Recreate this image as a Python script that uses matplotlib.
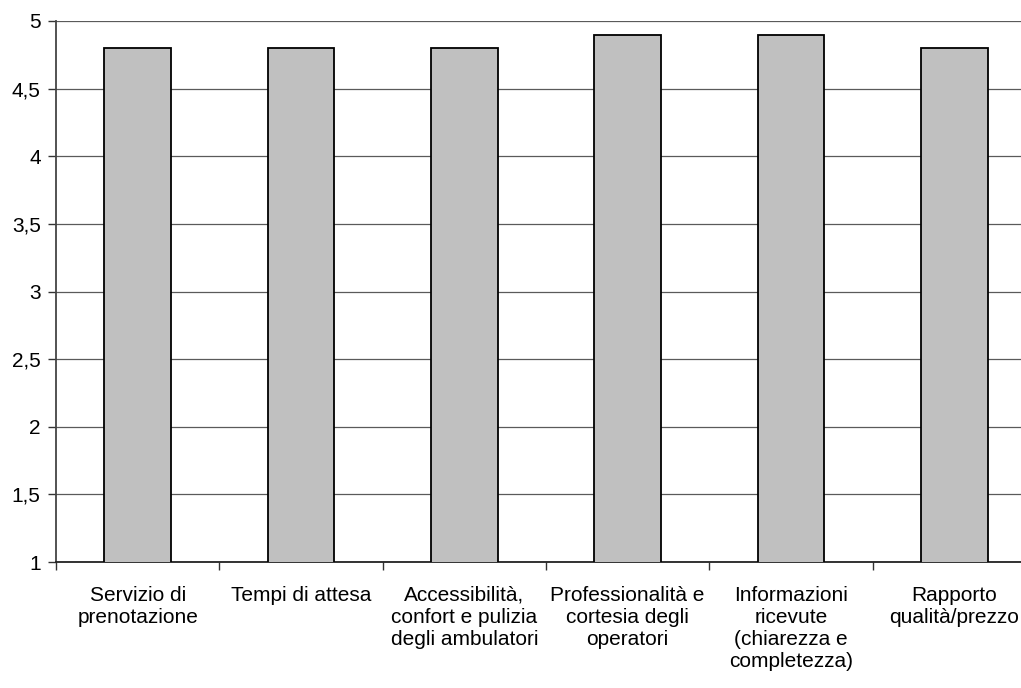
import matplotlib.pyplot as plt
from matplotlib.ticker import FixedLocator, FuncFormatter

plt.rcParams['font.family'] = ['Liberation Sans', 'DejaVu Sans']

# Punteggi medi per voce del questionario
categorie = [
    "Servizio di\nprenotazione",
    "Tempi di attesa",
    "Accessibilità,\nconfort e pulizia\ndegli ambulatori",
    "Professionalità e\ncortesia degli\noperatori",
    "Informazioni\nricevute\n(chiarezza e\ncompletezza)",
    "Rapporto\nqualità/prezzo",
]
punteggi = [4.8, 4.8, 4.8, 4.9, 4.9, 4.8]
y_ticks = [1, 1.5, 2, 2.5, 3, 3.5, 4, 4.5, 5]

fig = plt.figure(figsize=(10.21, 6.88), dpi=100)
# l'area del grafico continua oltre il bordo destro
ax = fig.add_axes([56 / 1021, 126 / 688, 980 / 1021, 541 / 688])

x = list(range(len(categorie)))
ax.bar(x, punteggi, width=0.41, bottom=0, color='#c0c0c0',
       edgecolor='black', linewidth=1.3, zorder=3)

ax.set_xlim(-0.5, len(categorie) - 0.5)
ax.set_ylim(1, 5)
ax.set_yticks(y_ticks)
ax.yaxis.set_major_formatter(FuncFormatter(lambda v, p: f"{v:g}".replace('.', ',')))
ax.grid(axis='y', color='#5a5a5a', linewidth=0.9, zorder=0)

ax.set_xticks(x)
ax.set_xticklabels(categorie, fontsize=15, linespacing=1.2)
ax.xaxis.set_minor_locator(FixedLocator([i - 0.5 for i in range(len(categorie) + 1)]))
ax.tick_params(axis='x', which='major', length=0, pad=17)
ax.tick_params(axis='x', which='minor', length=6, width=1, color='#333333')
ax.tick_params(axis='y', length=6, width=1, color='#333333', labelsize=15, pad=5)

for side in ['top', 'right']:
    ax.spines[side].set_visible(False)
ax.spines['left'].set_color('#444444')
ax.spines['bottom'].set_color('#222222')
ax.spines['left'].set_linewidth(1.3)
ax.spines['bottom'].set_linewidth(1.3)

fig.savefig('out.png', dpi=100)
